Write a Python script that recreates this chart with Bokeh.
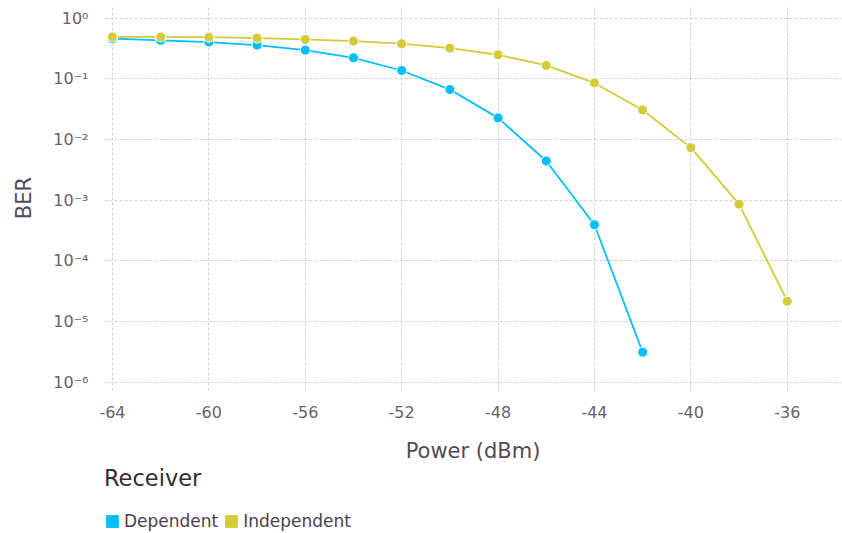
from bokeh.plotting import figure
from bokeh.layouts import column
from bokeh.models import (FixedTicker, CustomJSTickFormatter, Legend, LegendItem, Range1d)
from bokeh.embed import file_html
from bokeh.resources import INLINE

# ---- data ----
power_dep = [-64, -62, -60, -58, -56, -54, -52, -50, -48, -46, -44, -42]
ber_dep = [0.458, 0.43, 0.403, 0.359, 0.297, 0.222, 0.137, 0.0665, 0.0227, 0.00442, 3.93e-4, 3.12e-6]

power_ind = [-64, -62, -60, -58, -56, -54, -52, -50, -48, -46, -44, -42, -40, -38, -36]
ber_ind = [0.49, 0.49, 0.485, 0.469, 0.446, 0.418, 0.379, 0.32, 0.249, 0.166, 0.0855, 0.0307, 0.00733, 8.6e-4, 2.16e-5]

x_ticks = [-64, -60, -56, -52, -48, -44, -40, -36]
y_ticks = [1e-6, 1e-5, 1e-4, 1e-3, 1e-2, 1e-1, 1]

series_names = ["Dependent", "Independent"]
colors = ["#00BFFF", "#D4CA3A"]

FONT = "DejaVu Sans"

p = figure(width=842, height=465, output_backend="svg", toolbar_location=None,
           y_axis_type="log",
           x_range=Range1d(-64.33, -33.75), y_range=Range1d(10 ** -6.137, 10 ** 0.208),
           min_border_left=104, min_border_right=1, min_border_top=5, min_border_bottom=75)
p.outline_line_color = None
p.background_fill_color = "white"
p.border_fill_color = "white"

# grids
for g in (p.xgrid, p.ygrid):
    g.grid_line_color = "#D0D0E0"
    g.grid_line_dash = "3 2"
    g.grid_line_width = 1

# axes
p.xaxis.ticker = FixedTicker(ticks=x_ticks)
p.xaxis.formatter = CustomJSTickFormatter(code="return String(Math.round(tick));")
p.yaxis.ticker = FixedTicker(ticks=y_ticks, minor_ticks=[])
p.yaxis.formatter = CustomJSTickFormatter(code="""
const sup = {"-":"\u207B","0":"\u2070","1":"\u00B9","2":"\u00B2","3":"\u00B3","4":"\u2074","5":"\u2075","6":"\u2076","7":"\u2077","8":"\u2078","9":"\u2079"};
const e = Math.round(Math.log10(tick));
return "10" + String(e).split("").map(c => sup[c]).join("");
""")
for ax in (p.xaxis, p.yaxis):
    ax.axis_line_color = None
    ax.major_tick_line_color = None
    ax.minor_tick_line_color = None
    ax.major_label_text_font = FONT
    ax.major_label_text_font_size = "16px"
    ax.major_label_text_color = "#6C606B"
    ax.axis_label_text_font = FONT
    ax.axis_label_text_font_size = "21px"
    ax.axis_label_text_font_style = "normal"
    ax.axis_label_text_color = "#564A55"

p.xaxis.axis_label = "Power (dBm)"
p.yaxis.axis_label = "BER"
p.xaxis.major_label_standoff = 9
p.xaxis.axis_label_standoff = 18
p.yaxis.major_label_standoff = 10
p.yaxis.axis_label_standoff = 14

# series
xs = [power_dep, power_ind]
ys = [ber_dep, ber_ind]
for name, col, x, y in zip(series_names, colors, xs, ys):
    p.line(x, y, line_color=col, line_width=1.8)
    p.scatter(x, y, size=10, fill_color=col, line_color="white", line_width=1)

# ---- legend strip (separate figure below the chart) ----
lg = figure(width=842, height=68, output_backend="svg", toolbar_location=None,
            x_range=Range1d(0, 1), y_range=Range1d(0, 1),
            x_axis_location=None, y_axis_location=None,
            min_border_left=104, min_border_right=0, min_border_top=0, min_border_bottom=0)
lg.outline_line_color = None
lg.xgrid.visible = False
lg.ygrid.visible = False

items = []
for name, col in zip(series_names, colors):
    # swatch renderer, kept outside the visible range; only its legend key shows
    key = lg.quad(left=[5], right=[6], top=[6], bottom=[5], fill_color=col, line_color=None)
    items.append(LegendItem(label=name, renderers=[key]))

legend = Legend(items=items, orientation="horizontal", location="top_left",
                title="Receiver", title_text_font=FONT, title_text_font_size="22.5px",
                title_text_color="#362A35", title_text_font_style="normal", title_standoff=20,
                label_text_font=FONT, label_text_font_size="17px", label_text_color="#4C404B",
                glyph_width=16, glyph_height=16, label_standoff=4, spacing=5,
                margin=0, padding=5, border_line_color=None, background_fill_alpha=0)
lg.add_layout(legend, "center")

open("out.html", "w").write(file_html(column(p, lg, spacing=0), INLINE))
